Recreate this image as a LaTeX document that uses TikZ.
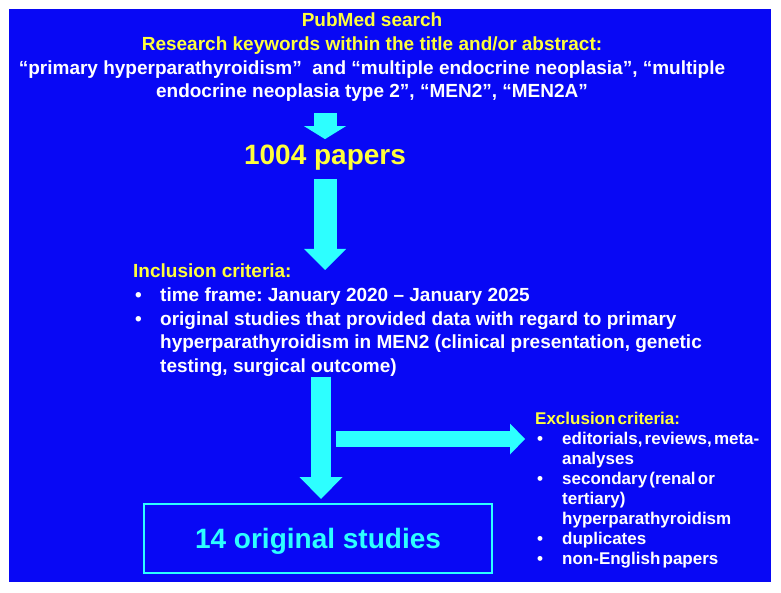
\documentclass[tikz,border=0pt]{standalone}
\usepackage{fontspec}
\setmainfont{Liberation Sans}
\usetikzlibrary{arrows.meta}
\frenchspacing

\definecolor{slideblue}{RGB}{8,8,245}
\definecolor{slideyellow}{RGB}{255,255,60}
\definecolor{slidecyan}{RGB}{45,255,255}

\newcommand{\bul}{\makebox[27pt][l]{\hspace{2pt}\textbullet}}
\newcommand{\ind}{\hspace*{27pt}}
\newcommand{\tightsp}{\spaceskip=2.2pt plus 1pt\relax}

\begin{document}
\begin{tikzpicture}[x=1pt,y=-1pt,
    txt/.style={inner sep=0pt, text=white, font=\bfseries\fontsize{19}{23.6}\selectfont},
    small/.style={inner sep=0pt, text=white, font=\bfseries\fontsize{17}{20}\selectfont},
    big/.style={inner sep=0pt, font=\bfseries\fontsize{28}{32}\selectfont},
    fat/.style={draw=slidecyan, line width=#1}
  ]
  \useasboundingbox (0,0) rectangle (781,593);
  \fill[slideblue] (9,9) rectangle (771,582);

  \node (kw) [txt, align=center, anchor=north] at (372,13)
    {\textcolor{slideyellow}{PubMed search}\\
     \textcolor{slideyellow}{Research keywords within the title and/or abstract:}\\
     “primary hyperparathyroidism”\ \ and “multiple endocrine neoplasia”, “multiple\\
     endocrine neoplasia type 2”, “MEN2”, “MEN2A”};
  \node (papers) [big, text=slideyellow] at (325,158) {1004 papers};
  \node (incl) [txt, align=left, anchor=north west] at (133,264)
    {\textcolor{slideyellow}{Inclusion criteria:}\\
     \bul time frame: January 2020 – January 2025\\
     \bul original studies that provided data with regard to primary\\
     \ind hyperparathyroidism in MEN2 (clinical presentation, genetic\\
     \ind testing, surgical outcome)};
  \node (excl) [small, align=left, anchor=north west] at (535,412)
    {\tightsp\textcolor{slideyellow}{Exclusion criteria:}\\
     \tightsp\bul editorials, reviews, meta-\\
     \ind analyses\\
     \tightsp\bul secondary (renal or\\
     \ind tertiary)\\
     \ind hyperparathyroidism\\
     \bul duplicates\\
     \tightsp\bul non-English papers};
  \node (studies) [big, text=slidecyan, draw=slidecyan, line width=2pt, text depth=0pt,
    minimum width=348pt, minimum height=69pt] at (318,538.5) {14 original studies};
  \coordinate (split) at (336,439);

  % arrows
  \draw[fat=23pt, -{Triangle[width=42pt,length=13pt,line width=0pt]}, shorten <=11pt, shorten >=6pt]
    (kw.south -| papers) -- (papers.north);
  \draw[fat=23pt, -{Triangle[width=42pt,length=21pt,line width=0pt]}, shorten <=8pt, shorten >=-6pt]
    (papers.south) -- (incl.north -| papers);
  \draw[fat=20pt, -{Triangle[width=43pt,length=22pt,line width=0pt]}, shorten >=4pt]
    ([xshift=3pt]incl.south -| studies.north) -- ([xshift=3pt]studies.north);
  \draw[fat=16pt, -{Triangle[width=31pt,length=15pt,line width=0pt]}, shorten >=10pt]
    (split) -- (excl.west |- split);
\end{tikzpicture}
\end{document}
